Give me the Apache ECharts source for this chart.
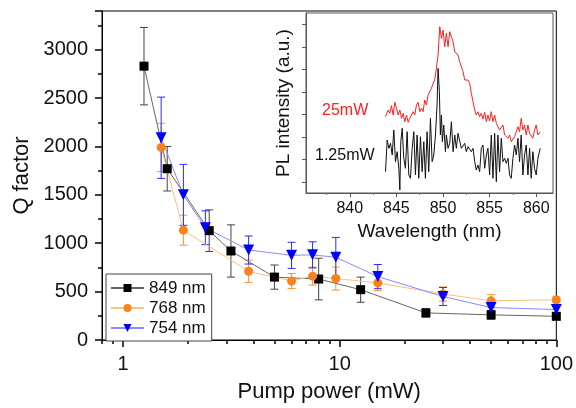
<!DOCTYPE html>
<html>
<head>
<meta charset="utf-8">
<script src="https://cdn.jsdelivr.net/npm/echarts@6/dist/echarts.min.js"></script>
<style>
  html, body { margin: 0; padding: 0; background: #fff; }
  #chart { width: 576px; height: 408px; }
</style>
</head>
<body>
<div id="chart"></div>
<script>
const FONT = '"Liberation Sans", Arial, sans-serif';

// Q factor versus pump power for three cavity modes
const power849 = [1.25, 1.6, 2.5, 3.15, 5.0, 8.0, 12.5, 25, 50, 100];
const q849     = [2830, 1770, 1130, 920, 650, 630, 520, 280, 260, 245];
const err849   = [400, 230, 215, 270, 125, 215, 130, 43, 46, 35];

const power768 = [1.5, 1.9, 3.8, 6.0, 7.5, 9.6, 15, 30, 50, 100];
const q768     = [1990, 1135, 710, 610, 660, 635, 590, 475, 405, 415];
const err768   = [250, 155, 115, 77, 93, 119, 80, 73, 63, 30];

const power754 = [1.5, 1.9, 2.4, 3.8, 6.0, 7.5, 9.6, 15, 30, 50, 100];
const q754     = [2090, 1500, 1160, 930, 875, 880, 855, 655, 450, 335, 315];
const err754   = [420, 315, 175, 145, 135, 135, 205, 125, 93, 60, 40];

const modeNames = ['849 nm', '768 nm', '754 nm'];

// Axis ticks
const powerMajorTicks = [1, 10, 100];
const powerMinorTicks = [0.8, 0.9, 2, 3, 4, 5, 6, 7, 8, 9, 20, 30, 40, 50, 60, 70, 80, 90];
const wlTicks = [840, 845, 850, 855, 860];
const wlMinorTicks = [837.5, 842.5, 847.5, 852.5, 857.5];
const plTicks = [11, 34, 56, 79, 101, 124, 146, 169];

// PL spectra: [wavelength (nm), intensity (a.u.)]
const spec25mW = [
  [843.83, 76.3], [844.12, 83.0], [844.30, 79.7], [844.47, 87.3], [844.65, 78.0],
  [844.83, 90.7], [845.01, 84.7], [845.19, 78.0], [845.37, 83.0], [845.55, 74.7],
  [845.72, 79.7], [845.90, 71.3], [846.08, 78.0], [846.26, 70.7], [846.44, 74.7],
  [846.62, 78.0], [846.79, 81.3], [846.97, 78.0], [847.15, 88.0], [847.33, 90.7],
  [847.51, 81.3], [847.69, 84.7], [847.86, 81.3], [848.04, 93.0], [848.22, 88.0],
  [848.40, 98.0], [848.58, 98.0], [848.76, 104.7], [848.94, 109.7], [849.11, 113.0],
  [849.29, 124.7], [849.47, 138.0], [849.65, 166.3], [849.83, 154.7], [850.01, 163.0],
  [850.18, 146.3], [850.36, 159.7], [850.54, 146.3], [850.72, 161.3], [850.90, 159.7],
  [851.08, 151.3], [851.26, 141.3], [851.43, 139.7], [851.61, 138.0], [851.79, 131.3],
  [851.97, 129.7], [852.15, 121.3], [852.33, 113.0], [852.50, 111.3], [852.68, 113.0],
  [852.86, 109.7], [853.04, 99.7], [853.22, 91.3], [853.40, 83.0], [853.57, 78.0],
  [853.75, 81.3], [853.93, 76.3], [854.11, 79.7], [854.29, 74.0], [854.47, 80.7],
  [854.65, 71.3], [854.82, 78.0], [855.00, 72.0], [855.18, 81.3], [855.36, 71.3],
  [855.54, 78.0], [855.72, 69.7], [855.89, 71.3], [856.07, 63.0], [856.25, 64.7],
  [856.43, 68.0], [856.61, 58.0], [856.79, 59.7], [856.97, 54.7], [857.14, 58.0],
  [857.32, 51.3], [857.50, 53.0], [857.68, 56.3], [857.86, 58.0], [858.04, 66.3],
  [858.21, 61.3], [858.39, 74.7], [858.57, 63.0], [858.75, 68.0], [858.93, 58.0],
  [859.11, 68.0], [859.29, 59.7], [859.46, 61.3], [859.64, 54.7], [859.82, 63.0],
  [860.00, 68.0], [860.18, 58.0], [860.43, 61.3]
];

const spec125mW = [
  [843.83, 21.3], [844.01, 53.0], [844.19, 44.7], [844.37, 49.7], [844.55, 38.0],
  [844.72, 63.0], [844.90, 31.3], [845.08, 41.3], [845.26, 24.7], [845.37, 3.0],
  [845.47, 51.3], [845.62, 64.7], [845.79, 34.7], [845.97, 24.7], [846.15, 61.3],
  [846.33, 18.0], [846.51, 14.7], [846.69, 44.7], [846.87, 61.3], [847.04, 18.0],
  [847.22, 58.0], [847.40, 14.7], [847.58, 56.3], [847.76, 21.3], [847.94, 51.3],
  [848.11, 14.7], [848.29, 61.3], [848.47, 21.3], [848.65, 74.7], [848.83, 31.3],
  [849.01, 38.0], [849.19, 58.0], [849.36, 88.0], [849.47, 124.7], [849.61, 101.3],
  [849.72, 58.0], [849.83, 78.0], [849.93, 51.3], [850.08, 68.0], [850.26, 41.3],
  [850.36, 58.0], [850.54, 44.7], [850.72, 49.7], [850.90, 71.3], [851.08, 41.3],
  [851.26, 58.0], [851.43, 44.7], [851.61, 59.7], [851.79, 58.0], [851.97, 44.7],
  [852.15, 43.0], [852.33, 49.7], [852.50, 41.3], [852.68, 46.3], [852.86, 48.0],
  [853.04, 41.3], [853.22, 44.7], [853.40, 31.3], [853.57, 23.0], [853.75, 28.0],
  [853.93, 21.3], [854.11, 44.7], [854.29, 48.0], [854.47, 24.7], [854.65, 38.0],
  [854.82, 44.7], [855.00, 18.0], [855.18, 58.0], [855.36, 14.7], [855.54, 59.7],
  [855.72, 11.3], [855.89, 58.0], [856.07, 21.3], [856.25, 54.7], [856.43, 31.3],
  [856.61, 34.7], [856.79, 29.7], [856.97, 34.7], [857.14, 18.0], [857.32, 14.7],
  [857.50, 34.7], [857.68, 48.0], [857.86, 38.0], [858.04, 54.7], [858.21, 31.3],
  [858.39, 58.0], [858.57, 18.0], [858.75, 38.0], [858.93, 48.0], [859.11, 18.0],
  [859.29, 44.7], [859.46, 14.7], [859.64, 41.3], [859.82, 24.7], [860.00, 18.0],
  [860.18, 34.7], [860.43, 44.7]
];

const zip = (xs, ys) => xs.map((x, i) => [x, ys[i]]);
const zip3 = (xs, ys, es) => xs.map((x, i) => [x, ys[i], es[i]]);

// Vertical error bar with caps
function errorBars(color) {
  return function (params, api) {
    const x = api.value(0), y = api.value(1), e = api.value(2);
    const top = api.coord([x, y + e]);
    const bot = api.coord([x, y - e]);
    const hw = 4;
    const st = { stroke: color, lineWidth: 1 };
    return {
      type: 'group',
      children: [
        { type: 'line', shape: { x1: top[0], y1: top[1], x2: bot[0], y2: bot[1] }, style: st },
        { type: 'line', shape: { x1: top[0] - hw, y1: top[1], x2: top[0] + hw, y2: top[1] }, style: st },
        { type: 'line', shape: { x1: bot[0] - hw, y1: bot[1], x2: bot[0] + hw, y2: bot[1] }, style: st }
      ]
    };
  };
}

const modes = [
  { name: modeNames[0], p: power849, q: q849, e: err849, symbol: 'rect', size: 9,
    mark: '#000000', line: '#666666', bar: '#444444' },
  { name: modeNames[1], p: power768, q: q768, e: err768, symbol: 'circle', size: 9,
    mark: '#f7821e', line: '#f8c27f', bar: '#f7962e' },
  { name: modeNames[2], p: power754, q: q754, e: err754, symbol: 'triangle', size: 11,
    mark: '#0000ff', line: '#8888ff', bar: '#2a2aff' }
];

const series = [];
modes.forEach(m => {
  series.push({
    type: 'custom', name: m.name + ' err', xAxisIndex: 0, yAxisIndex: 0,
    renderItem: errorBars(m.bar), data: zip3(m.p, m.q, m.e),
    encode: { x: 0, y: 1 }, z: 1, silent: true
  });
});
modes.forEach(m => {
  series.push({
    type: 'line', name: m.name, xAxisIndex: 0, yAxisIndex: 0,
    data: zip(m.p, m.q),
    symbol: m.symbol, symbolSize: m.size, symbolRotate: m.symbol === 'triangle' ? 180 : 0,
    lineStyle: { color: m.line, width: 1 },
    itemStyle: { color: m.mark, borderWidth: 0 },
    z: 3, animation: false
  });
});
series.push({
  type: 'line', name: '25mW', xAxisIndex: 2, yAxisIndex: 1, data: spec25mW,
  symbol: 'none', lineStyle: { color: '#ff2020', width: 1 }, z: 2, animation: false
});
series.push({
  type: 'line', name: '1.25mW', xAxisIndex: 2, yAxisIndex: 1, data: spec125mW,
  symbol: 'none', lineStyle: { color: '#111111', width: 1 }, z: 2, animation: false
});

const chart = echarts.init(document.getElementById('chart'), null, { renderer: 'canvas' });
chart.setOption({
  animation: false,
  backgroundColor: '#ffffff',
  textStyle: { fontFamily: FONT },
  grid: [
    { left: 102, top: 11, width: 455, height: 333, show: true, borderColor: '#000', borderWidth: 1, z: 0 },
    { left: 306, top: 13, width: 247, height: 180, show: true, borderColor: '#555', borderWidth: 1,
      backgroundColor: '#ffffff', z: 0 }
  ],
  xAxis: [
    { type: 'log', logBase: 10, gridIndex: 0, min: 0.8, max: 100,
      name: 'Pump power (mW)', nameLocation: 'middle', nameGap: 41,
      nameTextStyle: { fontSize: 22, color: '#111', fontFamily: FONT },
      axisLine: { show: true, lineStyle: { color: '#000', width: 1 } },
      axisTick: { show: true, inside: false, length: 7, lineStyle: { color: '#000', width: 1.5 },
                  customValues: powerMajorTicks },
      axisLabel: { show: true, fontSize: 20, color: '#111', margin: 14, fontFamily: FONT,
                   customValues: powerMajorTicks, formatter: v => String(v) },
      splitLine: { show: false }, minorTick: { show: false } },
    { type: 'log', logBase: 10, gridIndex: 0, min: 0.8, max: 100, position: 'bottom',
      axisLine: { show: false },
      axisTick: { show: true, length: 4, lineStyle: { color: '#000', width: 1.5 },
                  customValues: powerMinorTicks },
      axisLabel: { show: false }, splitLine: { show: false } },
    { type: 'value', gridIndex: 1, min: 835.3, max: 861.8,
      name: 'Wavelength (nm)', nameLocation: 'middle', nameGap: 29,
      nameTextStyle: { fontSize: 19, color: '#111', fontFamily: FONT },
      axisLine: { show: true, lineStyle: { color: '#555', width: 1 } },
      axisTick: { show: true, length: 4, lineStyle: { color: '#555' }, customValues: wlTicks },
      axisLabel: { show: true, fontSize: 16, color: '#111', margin: 8, fontFamily: FONT,
                   customValues: wlTicks, formatter: v => String(v) },
      splitLine: { show: false } },
    { type: 'value', gridIndex: 1, min: 835.3, max: 861.8, position: 'bottom',
      axisLine: { show: false },
      axisTick: { show: true, length: 2, lineStyle: { color: '#777' }, customValues: wlMinorTicks },
      axisLabel: { show: false }, splitLine: { show: false } }
  ],
  yAxis: [
    { type: 'value', gridIndex: 0, min: 0, max: 3400, interval: 500,
      name: 'Q factor', nameLocation: 'middle', nameGap: 66,
      nameTextStyle: { fontSize: 22, color: '#111', fontFamily: FONT },
      axisLine: { show: true, lineStyle: { color: '#000', width: 1 } },
      axisTick: { show: true, length: 7, lineStyle: { color: '#000', width: 1.5 } },
      minorTick: { show: true, splitNumber: 2, length: 4, lineStyle: { color: '#000', width: 1.5 } },
      axisLabel: { show: true, fontSize: 20, color: '#111', margin: 14, fontFamily: FONT,
                   showMaxLabel: false, formatter: v => String(v) },
      splitLine: { show: false } },
    { type: 'value', gridIndex: 1, min: 0, max: 180,
      name: 'PL intensity (a.u.)', nameLocation: 'middle', nameGap: 13,
      nameTextStyle: { fontSize: 19, color: '#111', fontFamily: FONT },
      axisLine: { show: true, lineStyle: { color: '#555', width: 1 } },
      axisTick: { show: true, length: 4, lineStyle: { color: '#555' }, customValues: plTicks },
      axisLabel: { show: false }, splitLine: { show: false } }
  ],
  legend: {
    data: modeNames,
    orient: 'vertical', left: 106, top: 274,
    padding: [5, 6, 4, 4], itemGap: 2, itemWidth: 33, itemHeight: 10,
    backgroundColor: '#ffffff', borderColor: '#444', borderWidth: 1,
    textStyle: { fontSize: 17, color: '#111', fontFamily: FONT, lineHeight: 18 },
    selectedMode: false
  },
  graphic: [
    { type: 'text', left: 322, top: 103, silent: true,
      style: { text: '25mW', fill: '#ff2020', font: '16px ' + FONT } },
    { type: 'text', left: 315, top: 148, silent: true,
      style: { text: '1.25mW', fill: '#111', font: '16px ' + FONT } }
  ],
  series: series
});
</script>
</body>
</html>
